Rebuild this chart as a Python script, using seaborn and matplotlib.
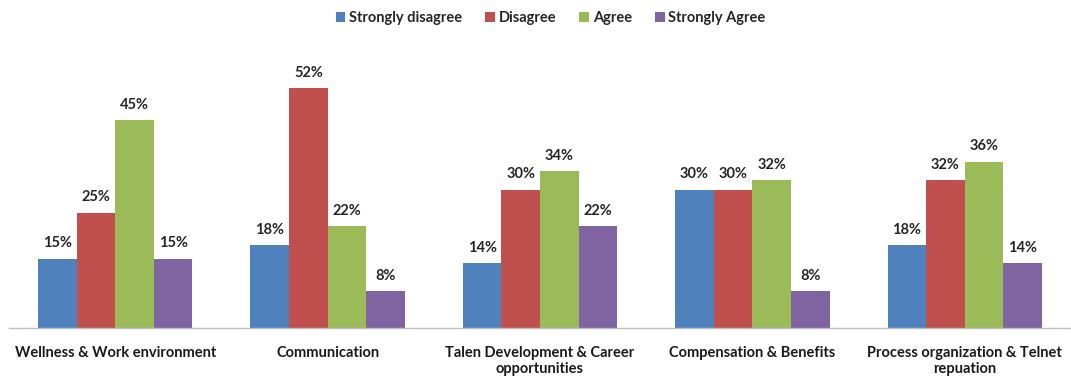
import matplotlib
matplotlib.use("Agg")
import matplotlib.pyplot as plt
import seaborn as sns
import pandas as pd
import numpy as np

categories = ["Wellness & Work environment", "Communication",
              "Talen Development & Career\nopportunities",
              "Compensation & Benefits",
              "Process organization & Telnet\nrepuation"]
responses = ["Strongly disagree", "Disagree", "Agree", "Strongly Agree"]
strongly_disagree = [15, 18, 14, 30, 18]
disagree = [25, 52, 30, 30, 32]
agree = [45, 22, 34, 32, 36]
strongly_agree = [15, 8, 22, 8, 14]
colors = ["#4F81BD", "#C0504D", "#9BBB59", "#8064A2"]

series = [strongly_disagree, disagree, agree, strongly_agree]
rows = []
for resp, vals in zip(responses, series):
    for cat, v in zip(categories, vals):
        rows.append({"category": cat, "response": resp, "value": v})
df = pd.DataFrame(rows)

sns.set_theme(style="white")
plt.rcParams['font.family'] = ['Lato', 'DejaVu Sans']

fig = plt.figure(figsize=(10.71, 3.76), dpi=100)
ax = fig.add_axes([9/1071, 48/376, 1062/1071, 277/376])

sns.barplot(data=df, x="category", y="value", hue="response", order=categories,
            hue_order=responses, palette=colors, width=0.727, saturation=1,
            edgecolor="none", linewidth=0, ax=ax, legend=True)

for cont in ax.containers:
    ax.bar_label(cont, labels=[f"{int(round(b.get_height()))}%" for b in cont],
                 padding=6, fontsize=10.5, fontweight="bold", color="#262626")

ax.set_ylim(0, 60)
ax.set_xlim(-0.5, len(categories) - 0.5)
ax.set_xlabel("")
ax.set_ylabel("")
ax.set_yticks([])
for s in ["top", "right", "left"]:
    ax.spines[s].set_visible(False)
ax.spines["bottom"].set_color("#BFBFBF")
ax.spines["bottom"].set_linewidth(1)

ax.set_xticks(range(len(categories)))
ax.set_xticklabels(categories, fontsize=10.5, fontweight="bold", color="#1a1a1a",
                   linespacing=1.15)
ax.tick_params(axis="x", which="major", length=0, pad=13)
ax.set_xticks(np.arange(-0.5, len(categories), 1.0), minor=True)
ax.tick_params(axis="x", which="minor", length=5, width=1, color="#BFBFBF", direction="out")

handles, labels = ax.get_legend_handles_labels()
ax.legend(handles, labels, loc="center", bbox_to_anchor=(0.51, 1.12), ncol=4,
          frameon=False, prop={"weight": "bold", "size": 10.5},
          handlelength=0.65, handleheight=0.65, handletextpad=0.25, columnspacing=1.6)

fig.savefig("out.png", dpi=100)
